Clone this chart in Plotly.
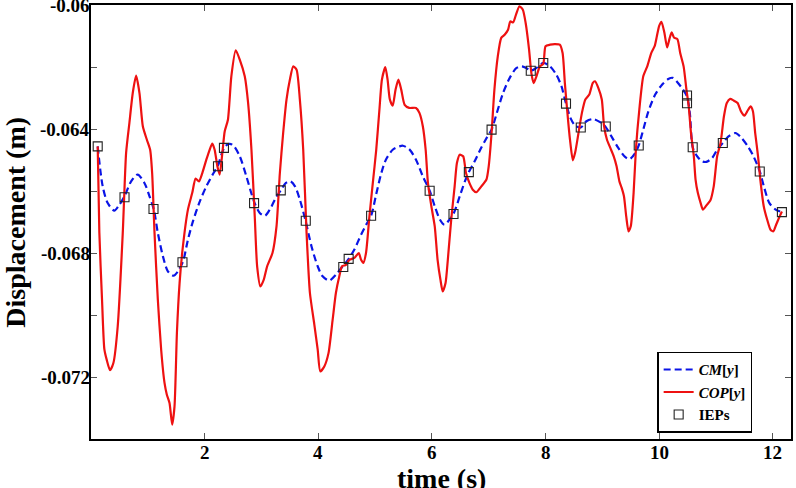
import plotly.graph_objects as go

# ---- data (time in s, displacement in m) ----
cop_t = [0.118,0.147,0.194,0.235,0.276,0.335,0.394,0.47,0.559,0.618,0.676,0.735,0.794,0.853,0.912,0.982,1.041,1.076,1.118,1.176,
         1.235,1.294,1.335,1.382,1.429,1.47,1.512,1.559,1.618,1.706,1.782,1.841,1.9,1.959,2.03,2.088,2.135,2.176,2.224,2.265,
         2.312,2.353,2.41,2.47,2.547,2.618,2.706,2.765,2.824,2.882,2.924,2.982,3.041,3.1,3.194,3.265,3.324,3.382,3.441,3.5,
         3.559,3.618,3.676,3.735,3.794,3.853,3.93,3.99,4.035,4.106,4.18,4.253,4.31,4.37,4.418,4.488,4.547,4.635,4.712,4.753,
         4.794,4.84,4.9,4.96,5.02,5.076,5.12,5.18,5.22,5.26,5.31,5.36,5.41,5.46,5.52,5.6,5.72,5.78,5.84,5.89,
         5.93,5.99,6.05,6.1,6.15,6.19,6.24,6.28,6.34,6.4,6.44,6.49,6.55,6.6,6.66,6.72,6.78,6.87,6.96,7.0,
         7.05,7.1,7.16,7.22,7.28,7.34,7.38,7.43,7.48,7.54,7.6,7.65,7.71,7.75,7.79,7.84,7.9,7.96,8.0,8.08,
         8.16,8.25,8.3,8.34,8.38,8.43,8.48,8.52,8.58,8.64,8.7,8.77,8.83,8.87,8.93,8.99,9.03,9.08,9.14,9.2,
         9.25,9.3,9.34,9.38,9.42,9.46,9.5,9.55,9.59,9.65,9.72,9.79,9.86,9.92,9.96,10.0,10.04,10.09,10.14,10.18,
         10.22,10.26,10.32,10.37,10.43,10.48,10.52,10.56,10.61,10.64,10.68,10.73,10.77,10.83,10.9,10.96,11.02,11.08,11.14,11.19,
         11.25,11.31,11.38,11.44,11.5,11.55,11.61,11.65,11.69,11.74,11.78,11.84,11.9,11.96,12.01,12.06,12.12,12.16]
cop_y = [-0.06456,-0.06735,-0.06950,-0.07110,-0.07144,-0.07178,-0.07155,-0.07037,-0.06735,-0.06477,-0.06380,-0.06284,-0.06228,-0.06284,-0.06391,-0.06434,-0.06467,-0.06542,-0.06735,-0.06950,
         -0.07112,-0.07219,-0.07257,-0.07284,-0.07354,-0.07295,-0.07058,-0.06897,-0.06778,-0.06660,-0.06606,-0.06560,-0.06569,-0.06542,-0.06499,-0.06467,-0.06447,-0.06467,-0.06520,-0.06547,
         -0.06477,-0.06408,-0.06370,-0.06230,-0.06146,-0.06176,-0.06230,-0.06316,-0.06467,-0.06682,-0.06843,-0.06908,-0.06886,-0.06843,-0.06800,-0.06714,-0.06542,-0.06413,-0.06305,-0.06241,
         -0.06198,-0.06209,-0.06305,-0.06467,-0.06735,-0.06929,-0.07030,-0.07112,-0.07182,-0.07166,-0.07123,-0.07015,-0.06929,-0.06875,-0.06843,-0.06838,-0.06822,-0.06816,-0.06800,-0.06822,
         -0.06832,-0.06800,-0.06682,-0.06574,-0.06467,-0.06338,-0.06241,-0.06200,-0.06241,-0.06305,-0.06325,-0.06273,-0.06241,-0.06273,-0.06322,-0.06332,-0.06332,-0.06348,-0.06391,-0.06467,
         -0.06574,-0.06649,-0.06714,-0.06822,-0.06886,-0.06924,-0.06897,-0.06822,-0.06692,-0.06585,-0.06510,-0.06483,-0.06488,-0.06542,-0.06574,-0.06596,-0.06604,-0.06585,-0.06563,-0.06520,
         -0.06413,-0.06273,-0.06165,-0.06106,-0.06096,-0.06080,-0.06053,-0.06056,-0.06031,-0.06004,-0.06015,-0.06058,-0.06144,-0.06219,-0.06252,-0.06230,-0.06198,-0.06190,-0.06133,-0.06128,
         -0.06126,-0.06128,-0.06155,-0.06252,-0.06338,-0.06434,-0.06501,-0.06477,-0.06413,-0.06348,-0.06305,-0.06289,-0.06252,-0.06246,-0.06268,-0.06305,-0.06391,-0.06434,-0.06461,-0.06488,
         -0.06520,-0.06569,-0.06590,-0.06617,-0.06682,-0.06730,-0.06714,-0.06606,-0.06467,-0.06338,-0.06230,-0.06198,-0.06155,-0.06133,-0.06100,-0.06067,-0.06054,-0.06088,-0.06137,-0.06110,
         -0.06088,-0.06105,-0.06110,-0.06155,-0.06198,-0.06273,-0.06327,-0.06413,-0.06488,-0.06563,-0.06606,-0.06639,-0.06660,-0.06647,-0.06631,-0.06585,-0.06488,-0.06445,-0.06359,-0.06316,
         -0.06303,-0.06308,-0.06316,-0.06343,-0.06357,-0.06343,-0.06327,-0.06343,-0.06413,-0.06488,-0.06563,-0.06649,-0.06692,-0.06725,-0.06730,-0.06708,-0.06682,-0.06666]

cm_t = [0.118,0.206,0.294,0.41,0.5,0.59,0.706,0.82,0.94,1.03,1.106,1.176,1.265,1.353,1.453,1.53,1.62,1.706,1.794,1.912,
        2.03,2.147,2.235,2.3,2.36,2.43,2.5,2.618,2.735,2.82,2.88,2.97,3.06,3.147,3.253,3.34,3.43,3.51,3.59,3.676,
        3.776,3.88,3.99,4.076,4.194,4.31,4.43,4.535,4.635,4.753,4.84,4.93,5.02,5.11,5.19,5.31,5.43,5.49,5.6,5.72,
        5.84,5.96,6.05,6.14,6.22,6.31,6.38,6.49,6.58,6.65,6.75,6.87,6.96,7.05,7.14,7.25,7.37,7.49,7.58,7.66,
        7.74,7.84,7.96,8.08,8.19,8.28,8.36,8.44,8.52,8.62,8.72,8.84,8.96,9.06,9.16,9.28,9.4,9.48,9.58,9.64,
        9.72,9.81,9.93,10.05,10.16,10.24,10.32,10.42,10.49,10.54,10.59,10.66,10.75,10.83,10.93,11.02,11.12,11.22,11.34,11.45,
        11.56,11.66,11.77,11.85,11.94,12.05,12.16]
cm_y = [-0.06456,-0.06585,-0.06639,-0.06663,-0.06644,-0.06617,-0.06569,-0.06547,-0.06574,-0.06617,-0.06660,-0.06735,-0.06810,-0.06859,-0.06873,-0.06859,-0.06827,-0.06757,-0.06698,-0.06635,
        -0.06585,-0.06545,-0.06518,-0.06480,-0.06456,-0.06448,-0.06452,-0.06488,-0.06553,-0.06606,-0.06639,-0.06671,-0.06680,-0.06660,-0.06622,-0.06598,-0.06574,-0.06569,-0.06585,-0.06628,
        -0.06696,-0.06778,-0.06843,-0.06875,-0.06889,-0.06870,-0.06843,-0.06819,-0.06789,-0.06741,-0.06710,-0.06680,-0.06610,-0.06542,-0.06499,-0.06467,-0.06456,-0.06454,-0.06465,-0.06499,
        -0.06553,-0.06599,-0.06649,-0.06692,-0.06709,-0.06692,-0.06674,-0.06617,-0.06569,-0.06539,-0.06505,-0.06460,-0.06430,-0.06402,-0.06350,-0.06285,-0.06235,-0.06203,-0.06198,-0.06203,
        -0.06212,-0.06203,-0.06187,-0.06198,-0.06225,-0.06262,-0.06318,-0.06365,-0.06389,-0.06395,-0.06375,-0.06368,-0.06378,-0.06394,-0.06424,-0.06461,-0.06490,-0.06497,-0.06477,-0.06453,
        -0.06402,-0.06343,-0.06289,-0.06257,-0.06239,-0.06235,-0.06249,-0.06273,-0.06295,-0.06350,-0.06459,-0.06486,-0.06504,-0.06506,-0.06494,-0.06467,-0.06445,-0.06424,-0.06413,-0.06429,
        -0.06456,-0.06488,-0.06537,-0.06590,-0.06639,-0.06660,-0.06668]

iep_t = [0.118,0.59,1.1,1.61,2.235,2.34,2.87,3.34,3.78,4.44,4.535,4.93,5.96,6.38,6.65,7.05,7.74,7.96,
         8.36,8.62,9.06,9.64,10.49,10.49,10.59,11.12,11.77,12.16]
iep_y = [-0.06456,-0.06620,-0.06658,-0.06830,-0.06520,-0.06461,-0.06639,-0.06598,-0.06696,-0.06845,-0.06819,-0.06680,-0.06599,-0.06674,-0.06539,-0.06402,-0.06212,-0.06187,
         -0.06318,-0.06395,-0.06392,-0.06453,-0.06292,-0.06317,-0.06459,-0.06445,-0.06537,-0.06668]

x_ticks = [2, 4, 6, 8, 10, 12]
y_ticks = [-0.06, -0.064, -0.068, -0.072]
y_ticktext = ["-0.06", "-0.064", "-0.068", "-0.072"]

FONT = "'Liberation Serif', 'Times New Roman', Times, serif"

fig = go.Figure()
fig.add_trace(go.Scatter(x=cm_t, y=cm_y, mode="lines", name="<b><i>CM</i>[<i>y</i>]</b>",
                         line=dict(color="#0a14e6", width=2.2, dash="7px,4px", shape="spline", smoothing=0.8)))
fig.add_trace(go.Scatter(x=cop_t, y=cop_y, mode="lines", name="<b><i>COP</i>[<i>y</i>]</b>",
                         line=dict(color="#ee1111", width=2.2, shape="spline", smoothing=0.6)))
fig.add_trace(go.Scatter(x=iep_t, y=iep_y, mode="markers", name="<b>IEPs</b>",
                         marker=dict(symbol="square-open", size=9, color="#222222", line=dict(width=1.1))))

# y tick labels placed right against the axis line
for v, txt in zip(y_ticks, y_ticktext):
    fig.add_annotation(x=0, xref="paper", y=v, yref="y", text=f"<b>{txt}</b>", showarrow=False,
                       xanchor="right", yanchor="middle", xshift=1,
                       font=dict(family=FONT, size=19, color="black"))
# x tick labels
for v in x_ticks:
    fig.add_annotation(x=v, xref="x", y=0, yref="paper", text=f"<b>{v}</b>", showarrow=False,
                       xanchor="center", yanchor="top", yshift=-1,
                       font=dict(family=FONT, size=19, color="black"))
# axis titles
fig.add_annotation(x=-0.109, xref="paper", y=0.5, yref="paper", text="<b>Displacement (m)</b>",
                   showarrow=False, textangle=-90, xanchor="center", yanchor="middle",
                   font=dict(family=FONT, size=28, color="black"))
fig.add_annotation(x=0.5, xref="paper", y=0, yref="paper", text="<b>time (s)</b>",
                   showarrow=False, xanchor="center", yanchor="middle", yshift=-39,
                   font=dict(family=FONT, size=28, color="black"))

fig.update_layout(
    width=796, height=488,
    margin=dict(l=91, r=5, t=5, b=49),
    paper_bgcolor="white", plot_bgcolor="white",
    font=dict(family=FONT, color="black", size=18),
    legend=dict(x=0.8088, y=0.201, xanchor="left", yanchor="top",
                bordercolor="black", borderwidth=1.5, bgcolor="white",
                font=dict(family=FONT, size=15), tracegroupgap=0, itemwidth=30),
    showlegend=True,
)
fig.update_xaxes(range=[0, 12.32], tickvals=x_ticks, showticklabels=False,
                 ticks="inside", ticklen=6, tickwidth=1, tickcolor="#555",
                 showline=True, linecolor="black", linewidth=1.5, mirror="ticks",
                 showgrid=False, zeroline=False, automargin=False)
fig.update_yaxes(range=[-0.074, -0.06], tickvals=y_ticks, showticklabels=False,
                 ticks="inside", ticklen=6, tickwidth=1, tickcolor="#555",
                 minor=dict(dtick=0.002, tick0=-0.06, ticks="inside", ticklen=6, tickcolor="#555"),
                 showline=True, linecolor="black", linewidth=1.5, mirror="ticks",
                 showgrid=False, zeroline=False, automargin=False)

fig.write_html("out.html")
